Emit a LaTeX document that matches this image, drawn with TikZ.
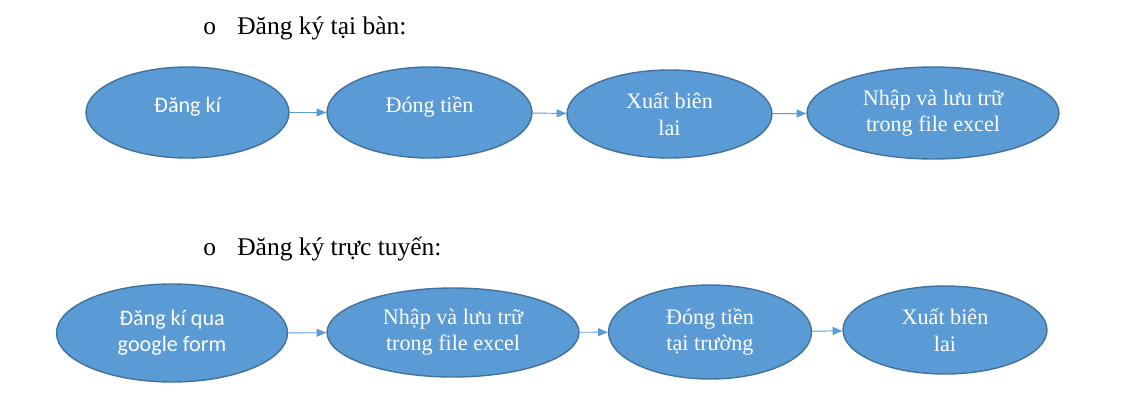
\documentclass[tikz,border=0pt]{standalone}
\usepackage{fontspec}
\setmainfont{Liberation Serif}
\newfontfamily\calibri{Carlito}
\usetikzlibrary{shapes.geometric, arrows.meta, positioning}
\definecolor{stepBlue}{HTML}{5B9BD5}
\definecolor{stepEdge}{HTML}{41719C}

\begin{document}
\begin{tikzpicture}[
    x=0.02cm, y=-0.02cm,
    stepnode/.style={ellipse, fill=stepBlue, draw=stepEdge, line width=0.8pt,
        inner sep=0pt, align=center, text=white, font=\fontsize{12.6}{15}\selectfont},
    oneline/.style={text height=9pt, text depth=9pt},
    flow/.style={-{Triangle[length=5.5pt,width=4.5pt]}, draw=stepBlue, line width=0.55pt},
    heading/.style={anchor=base west, inner sep=0pt, font=\fontsize{14.5}{17}\selectfont},
]
    \useasboundingbox (0,0) rectangle (1133,406);

    % Headers
    \node[heading] (b1) at (203,34) {o};
    \node[heading] (h1) at (237,34) {Đăng ký tại bàn:};
    \node[heading] (b2) at (203,255) {o};
    \node[heading] (h2) at (237,255) {Đăng ký trực tuyến:};

    % Tai ban
    \node[stepnode, oneline, minimum width=4.06cm, minimum height=1.82cm] (e1) at (187.5,112.5)
        {\calibri Đăng kí};
    \node[stepnode, oneline, minimum width=4.10cm, minimum height=1.82cm] (e2) at (429.5,112.5)
        {Đóng tiền};
    \node[stepnode, minimum width=4.10cm, minimum height=1.76cm] (e3) at (669.5,114)
        {Xuất biên\\lai};
    \node[stepnode, minimum width=5.04cm, minimum height=1.84cm] (e4) at (933,113)
        {Nhập và lưu trữ\\trong file excel};

    % Truc tuyen
    \node[stepnode, minimum width=4.62cm, minimum height=1.96cm] (e5) at (172,333)
        {\calibri Đăng kí qua\\\calibri google form};
    \node[stepnode, minimum width=5.04cm, minimum height=1.78cm] (e6) at (453,332.5)
        {Nhập và lưu trữ\\trong file excel};
    \node[stepnode, minimum width=4.06cm, minimum height=1.88cm] (e7) at (710,332)
        {Đóng tiền\\tại trường};
    \node[stepnode, minimum width=4.08cm, minimum height=1.76cm] (e8) at (945,330)
        {Xuất biên\\lai};

    % Arrows
    \draw[flow] (e1) -- (e2);
    \draw[flow] (e2) -- (e3);
    \draw[flow] (e3) -- (e4);
    \draw[flow] (e5) -- (e6);
    \draw[flow] (e6) -- (e7);
    \draw[flow] (e7) -- (e8);
\end{tikzpicture}
\end{document}
